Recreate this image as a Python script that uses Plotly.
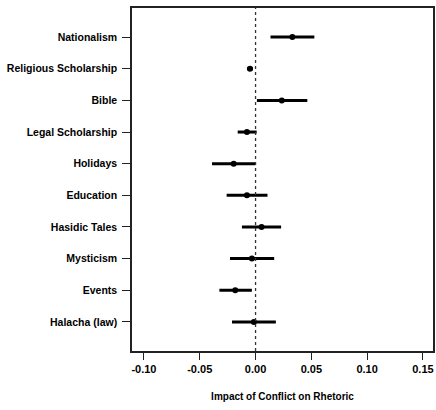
import plotly.graph_objects as go

categories = ["Nationalism", "Religious Scholarship", "Bible", "Legal Scholarship",
              "Holidays", "Education", "Hasidic Tales", "Mysticism", "Events", "Halacha (law)"]
estimate = [0.033, -0.005, 0.0235, -0.0077, -0.0196, -0.0077, 0.0054, -0.0033, -0.0182, -0.0015]
lower = [0.0134, -0.0077, 0.0012, -0.016, -0.039, -0.0259, -0.0122, -0.0229, -0.0324, -0.0211]
upper = [0.0527, -0.0024, 0.0464, 0.001, -0.0003, 0.0107, 0.0229, 0.0167, -0.0033, 0.0182]
xticks = [-0.10, -0.05, 0.00, 0.05, 0.10, 0.15]
xticklabels = ["-0.10", "-0.05", "0.00", "0.05", "0.10", "0.15"]

font_family = "Liberation Sans, Arial, sans-serif"

fig = go.Figure()
fig.add_trace(go.Scatter(
    x=estimate, y=categories, mode="markers",
    marker=dict(color="black", size=6),
    error_x=dict(type="data", symmetric=False,
                 array=[u - e for u, e in zip(upper, estimate)],
                 arrayminus=[e - l for e, l in zip(estimate, lower)],
                 thickness=3, width=0, color="black"),
    showlegend=False,
))
fig.add_vline(x=0, line=dict(color="#333", width=1.3, dash="dot"))

fig.update_layout(
    width=436, height=410,
    margin=dict(l=132, r=1, t=8, b=59),
    paper_bgcolor="white", plot_bgcolor="white",
    font=dict(family=font_family, size=10.5, color="black", weight="bold"),
)
fig.update_xaxes(
    range=[-0.1107, 0.159], tickvals=xticks, ticktext=xticklabels,
    showgrid=False, zeroline=False,
    showline=True, linecolor="#222", linewidth=1.5, mirror=True,
    ticks="outside", ticklen=7, tickwidth=1.3, tickcolor="#222",
    tickfont=dict(size=11, weight="bold"),
    title=dict(text="Impact of Conflict on Rhetoric", standoff=19,
               font=dict(size=10, weight="bold")),
)
fig.update_yaxes(
    type="category", categoryorder="array", categoryarray=categories[::-1],
    range=[-0.92, 9.92],
    showgrid=False, zeroline=False,
    showline=True, linecolor="#222", linewidth=1.5, mirror=True,
    ticks="outside", ticklen=8, tickwidth=1.3, tickcolor="#222",
    ticklabelstandoff=3,
    tickfont=dict(size=10.5, weight="bold"),
)

fig.write_html("out.html")
